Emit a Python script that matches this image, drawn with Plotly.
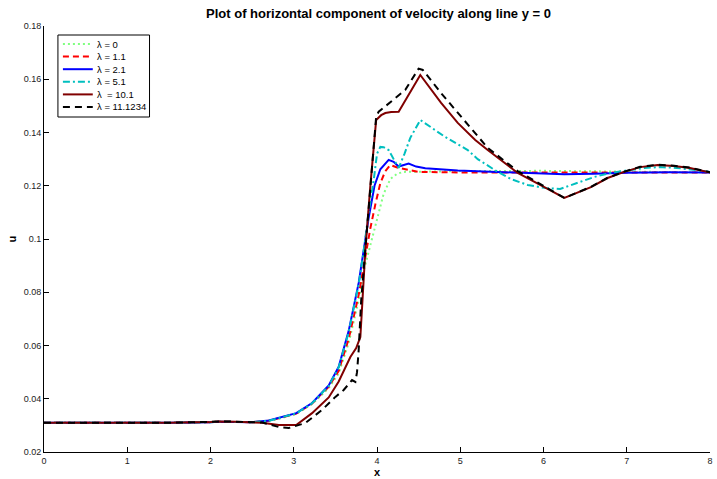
# velocity_plot.py
# horizontal component of velocity u along the line y = 0, for several lambda

import plotly.graph_objects as go

# ─────────────────────────────────────────────
# DATA
# ─────────────────────────────────────────────

x_l0 = [0, 0.5, 1, 1.5, 2, 2.1, 2.3, 2.5, 2.7, 2.82, 3.03, 3.22, 3.42, 3.54, 3.66,
        3.78, 3.84, 3.92, 4.0, 4.08, 4.16, 4.24, 4.32, 5.0, 6.0, 7.0, 8.0]
u_l0 = [0.0310, 0.0310, 0.0309, 0.0310, 0.0312, 0.0314, 0.0313, 0.0312, 0.0317, 0.0325,
        0.0343, 0.0380, 0.0440, 0.0495, 0.0610, 0.0770, 0.0880, 0.0980, 0.1080, 0.1170,
        0.1225, 0.1245, 0.1252, 0.1255, 0.1256, 0.1253, 0.1250]

x_l1 = [0, 0.5, 1, 1.5, 2, 2.1, 2.3, 2.5, 2.7, 2.82, 3.03, 3.22, 3.42, 3.54, 3.66,
        3.78, 3.84, 3.92, 3.98, 4.04, 4.1, 4.16, 4.26, 4.38, 4.5, 5.0, 5.5, 6.0, 6.5,
        7.0, 8.0]
u_l1 = [0.0310, 0.0310, 0.0309, 0.0310, 0.0312, 0.0314, 0.0313, 0.0312, 0.0317, 0.0326,
        0.0344, 0.0382, 0.0445, 0.0505, 0.0625, 0.0790, 0.0900, 0.1040, 0.1130, 0.1210,
        0.1255, 0.1278, 0.1267, 0.1260, 0.1252, 0.1250, 0.1250, 0.1249, 0.1249, 0.1250,
        0.1250]

x_l2 = [0, 0.5, 1, 1.5, 2, 2.1, 2.3, 2.5, 2.7, 2.82, 3.03, 3.22, 3.42, 3.54, 3.66,
        3.78, 3.84, 3.9, 3.97, 4.04, 4.14, 4.2, 4.26, 4.38, 4.47, 4.58, 4.97, 5.5, 6.0,
        6.25, 6.6, 7.0, 7.5, 8.0]
u_l2 = [0.0310, 0.0310, 0.0309, 0.0310, 0.0312, 0.0314, 0.0313, 0.0312, 0.0318, 0.0328,
        0.0346, 0.0384, 0.0450, 0.0520, 0.0655, 0.0835, 0.0959, 0.1080, 0.1200, 0.1262,
        0.1297, 0.1290, 0.1272, 0.1283, 0.1272, 0.1266, 0.1257, 0.1252, 0.1246, 0.1243,
        0.1245, 0.1249, 0.1251, 0.1250]

x_l5 = [0, 0.5, 1, 1.5, 2, 2.1, 2.3, 2.5, 2.7, 2.82, 3.03, 3.22, 3.42, 3.54, 3.66,
        3.78, 3.84, 3.9, 3.96, 4.0, 4.04, 4.08, 4.14, 4.2, 4.26, 4.33, 4.4, 4.52, 4.82,
        5.09, 5.21, 5.42, 5.61, 5.81, 6.01, 6.2, 6.41, 6.61, 6.8, 7.01, 7.21, 7.4, 7.6,
        7.8, 8.0]
u_l5 = [0.0310, 0.0310, 0.0309, 0.0310, 0.0312, 0.0314, 0.0313, 0.0312, 0.0317, 0.0327,
        0.0345, 0.0383, 0.0448, 0.0518, 0.0650, 0.0830, 0.0955, 0.1100, 0.1220, 0.1320,
        0.1346, 0.1345, 0.1334, 0.1300, 0.1267, 0.1320, 0.1380, 0.1447, 0.1383, 0.1334,
        0.1300, 0.1258, 0.1225, 0.1203, 0.1192, 0.1188, 0.1210, 0.1233, 0.1248, 0.1259,
        0.1267, 0.1270, 0.1267, 0.1260, 0.1252]

x_l10 = [0, 0.5, 1, 1.5, 2, 2.1, 2.3, 2.5, 2.62, 2.82, 3.03, 3.22, 3.42, 3.54, 3.68,
         3.75, 3.80, 3.82, 3.86, 3.92, 3.99, 4.05, 4.10, 4.17, 4.26, 4.52, 4.77, 4.97,
         5.18, 5.33, 5.69, 6.01, 6.25, 6.57, 6.77, 6.97, 7.16, 7.37, 7.57, 7.76, 8.0]
u_l10 = [0.0310, 0.0310, 0.0309, 0.0310, 0.0313, 0.0315, 0.0314, 0.0313, 0.0310, 0.0301,
         0.0301, 0.0346, 0.0405, 0.0465, 0.0557, 0.0590, 0.0632, 0.0740, 0.0959, 0.1200,
         0.1447, 0.1465, 0.1473, 0.1477, 0.1478, 0.1616, 0.1511, 0.1436, 0.1372, 0.1334,
         0.1248, 0.1195, 0.1154, 0.1195, 0.1229, 0.1252, 0.1270, 0.1278, 0.1274, 0.1267,
         0.1250]

x_l11 = [0, 0.5, 1, 1.5, 2, 2.1, 2.3, 2.5, 2.62, 2.82, 2.94, 3.14, 3.34, 3.50, 3.60,
         3.70, 3.74, 3.76, 3.78, 3.81, 3.86, 3.92, 3.99, 4.02, 4.17, 4.34, 4.50, 4.55,
         4.77, 4.97, 5.18, 5.33, 5.69, 6.01, 6.25, 6.57, 6.77, 6.97, 7.16, 7.37, 7.57,
         7.76, 8.0]
u_l11 = [0.0310, 0.0310, 0.0309, 0.0310, 0.0313, 0.0315, 0.0314, 0.0313, 0.0311, 0.0294,
         0.0290, 0.0309, 0.0358, 0.0407, 0.0433, 0.0470, 0.0463, 0.0500, 0.0583, 0.0770,
         0.0959, 0.1200, 0.1460, 0.1478, 0.1515, 0.1560, 0.1640, 0.1635, 0.1548, 0.1473,
         0.1398, 0.1342, 0.1255, 0.1198, 0.1154, 0.1196, 0.1230, 0.1253, 0.1271, 0.1279,
         0.1275, 0.1268, 0.1251]

series_x = [x_l0, x_l1, x_l2, x_l5, x_l10, x_l11]
series_u = [u_l0, u_l1, u_l2, u_l5, u_l10, u_l11]
series_names = ["λ = 0", "λ = 1.1", "λ = 2.1", "λ = 5.1", "λ \u00a0= 10.1", "λ = 11.1234"]

y_tick_vals = [0.02, 0.04, 0.06, 0.08, 0.1, 0.12, 0.14, 0.16, 0.18]
y_tick_text = ["0.02", "0.04", "0.06", "0.08", "0.1", "0.12", "0.14", "0.16", "0.18"]
x_tick_vals = [0, 1, 2, 3, 4, 5, 6, 7, 8]

# ─────────────────────────────────────────────
# STYLES (MATLAB-ish)
# ─────────────────────────────────────────────

COLORS = ["#80FF80", "#FF0000", "#0000FF", "#00BFBF", "#800000", "#000000"]
DASHES = ["2px,3px", "6px,4px", "solid", "7px,3px,2px,3px", "solid", "7px,5px"]
FONT = "Liberation Sans, Arial, sans-serif"

W, H = 717, 479
L, R, T, B = 44, 4, 26, 27


def px_x(px):
    # pixel column -> paper x
    return (px - L) / (W - L - R)


def px_y(py):
    # pixel row -> paper y
    return (H - B - py) / (H - T - B)


fig = go.Figure()

for xs, us, name, col, dash in zip(series_x, series_u, series_names, COLORS, DASHES):
    fig.add_trace(go.Scatter(
        x=xs, y=us, mode="lines", name=name,
        line=dict(color=col, width=2, dash=dash),
        showlegend=False
    ))

# ─────────────────────────────────────────────
# Hand-drawn legend box (MATLAB style, tight rows)
# ─────────────────────────────────────────────

shapes = [dict(type="rect", xref="paper", yref="paper",
               x0=px_x(58), x1=px_x(150), y0=px_y(117), y1=px_y(35),
               line=dict(color="black", width=1), fillcolor="white", layer="above")]
annotations = []
row_y = 44
for name, col, dash in zip(series_names, COLORS, DASHES):
    shapes.append(dict(type="line", xref="paper", yref="paper",
                       x0=px_x(63), x1=px_x(93), y0=px_y(row_y), y1=px_y(row_y),
                       line=dict(color=col, width=2, dash=dash), layer="above"))
    annotations.append(dict(text=name, xref="paper", yref="paper",
                            x=px_x(95), y=px_y(row_y), xanchor="left", yanchor="middle",
                            showarrow=False, font=dict(size=9.5, color="black", family=FONT)))
    row_y += 12.6

fig.update_layout(
    width=W, height=H,
    margin=dict(l=L, r=R, t=T, b=B),
    plot_bgcolor="white",
    paper_bgcolor="white",
    font=dict(family=FONT, size=9, color="#222222"),
    title=dict(text="<b>Plot of horizontal component of velocity along line y = 0</b>",
               x=378.5 / W, xanchor="center",
               y=1 - 13 / H, yanchor="middle",
               font=dict(size=13, color="black", family=FONT)),
    showlegend=False,
    shapes=shapes,
    annotations=annotations,
    xaxis=dict(range=[0, 8], tickvals=x_tick_vals, ticks="inside", ticklen=5,
               showgrid=False, zeroline=False, showline=True, linecolor="black",
               linewidth=1, tickcolor="black",
               title=dict(text="<b>x</b>", standoff=2, font=dict(size=11, color="black"))),
    yaxis=dict(range=[0.02, 0.18], tickvals=y_tick_vals, ticktext=y_tick_text,
               ticks="inside", ticklen=5, showgrid=False, zeroline=False,
               showline=True, linecolor="black", linewidth=1, tickcolor="black",
               title=dict(text="<b>u</b>", standoff=4, font=dict(size=11, color="black")))
)

# the page body has an 8px default margin; drop it so the figure sits at 0,0
fig.write_html("out.html", config={"displayModeBar": False},
               post_script="document.body.style.margin='0';")
